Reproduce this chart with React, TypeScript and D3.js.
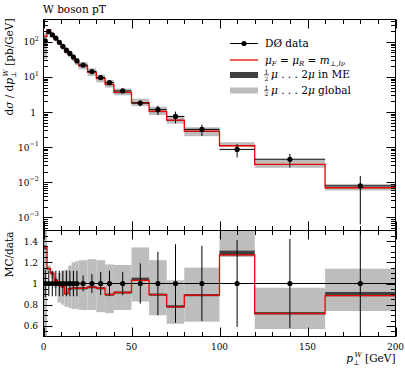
import React from "react";
import * as d3 from "d3";

// bin edges in pT [GeV]
const edges = [0, 2, 4, 6, 8, 10, 12, 14, 16, 18, 20, 25, 30, 35, 40, 50, 60, 70, 80, 100, 120, 160, 200];

// D0 data, dsigma/dpT [pb/GeV]
const dataVals = [107, 198, 158, 128, 98, 75, 58, 47, 37, 28.7, 22, 14.3, 9.6, 6.9, 4.0, 1.8, 1.17, 0.75, 0.32, 0.086, 0.045, 0.0078];
// relative data uncertainty
const dataRelErr = [0.13, 0.12, 0.12, 0.12, 0.12, 0.12, 0.12, 0.12, 0.12, 0.12, 0.075, 0.09, 0.11, 0.12, 0.11, 0.19, 0.3, 0.37, 0.355, 0.41, 0.42, 0.92];

// MC / data
const mcRatio = [1.34, 1.14, 1.095, 1.03, 0.985, 0.97, 0.905, 0.95, 0.955, 0.955, 0.955, 0.965, 0.955, 0.895, 0.915, 1.03, 0.895, 0.78, 0.89, 1.27, 0.715, 0.885];
// scale variation in ME (ratio to data)
const meLo = [1.32, 1.13, 1.085, 1.02, 0.975, 0.96, 0.895, 0.94, 0.945, 0.945, 0.945, 0.955, 0.945, 0.885, 0.905, 1.025, 0.885, 0.772, 0.88, 1.265, 0.708, 0.88];
const meHi = [1.36, 1.15, 1.105, 1.04, 0.995, 0.98, 0.915, 0.96, 0.965, 0.965, 0.965, 0.975, 0.965, 0.905, 0.925, 1.055, 0.905, 0.795, 0.9, 1.31, 0.73, 0.92];
// global scale variation (ratio to data)
const glLo = [0.3, 1.1, 1.05, 0.96, 0.82, 0.8, 0.78, 0.77, 0.76, 0.76, 0.75, 0.75, 0.73, 0.72, 0.75, 0.83, 0.7, 0.62, 0.64, 1.25, 0.57, 0.74];
const glHi = [1.7, 1.17, 1.12, 1.06, 1.1, 1.12, 1.13, 1.17, 1.2, 1.21, 1.22, 1.23, 1.22, 1.18, 1.175, 1.34, 1.22, 1.03, 1.15, 1.6, 0.96, 1.14];

const xMajor = [0, 50, 100, 150, 200];
const ratioTicks = [0.6, 0.8, 1, 1.2, 1.4];
const decades = [-3, -2, -1, 0, 1, 2];

const W = 405;
const H = 369;
const L = 43.5;
const R = 395.5;
const T = 19.5;
const M = 230.5;
const B = 336.5;

const FONT = "'DejaVu Serif', 'Liberation Serif', serif";
const LIGHT = "#bdbdbd";
const DARK = "#404040";
const RED = "#ee0000";

const x = d3.scaleLinear().domain([0, 200]).range([L, R]);
const yTop = d3.scaleLog().domain([Math.pow(10, -3.38), Math.pow(10, 2.64)]).range([M, T]);
const yRat = d3.scaleLinear().domain([0.5, 1.5]).range([B, M]);

const bins = dataVals.map((v, i) => ({
  lo: edges[i],
  hi: edges[i + 1],
  mid: (edges[i] + edges[i + 1]) / 2,
  v,
  err: v * dataRelErr[i],
  rel: dataRelErr[i],
  r: mcRatio[i],
  meLo: meLo[i],
  meHi: meHi[i],
  glLo: glLo[i],
  glHi: glHi[i],
}));

const stepPath = (y: (b: any) => number) => {
  const pts: [number, number][] = bins.map((b) => [x(b.lo), y(b)]);
  pts.push([x(200), y(bins[bins.length - 1])]);
  return d3.line().curve(d3.curveStepAfter)(pts) || "";
};

const XTicks = ({ y0, dir }: { y0: number; dir: number }) => (
  <g stroke="#000" strokeWidth={1}>
    {d3.range(0, 201, 10).map((t) => {
      const major = t % 50 === 0;
      const xx = Math.round(x(t)) + 0.5;
      return <line key={t} x1={xx} x2={xx} y1={y0} y2={y0 + dir * (major ? 9 : 4.5)} />;
    })}
  </g>
);

const Sup = ({ base, exp }: { base: string; exp: string }) => (
  <>
    {base}
    <tspan dy={-4.5} fontSize={6.5}>{exp}</tspan>
  </>
);

const Half = ({ x0, y0 }: { x0: number; y0: number }) => (
  <g>
    <text x={x0 + 2.5} y={y0 - 4} fontSize={6} textAnchor="middle" fontFamily={FONT}>1</text>
    <line x1={x0} x2={x0 + 5} y1={y0 - 3.2} y2={y0 - 3.2} stroke="#000" strokeWidth={0.6} />
    <text x={x0 + 2.5} y={y0 + 2.5} fontSize={6} textAnchor="middle" fontFamily={FONT}>2</text>
  </g>
);

export default function App() {
  const redTop = stepPath((b) => yTop(b.v * b.r));
  const redRat = stepPath((b) => yRat(b.r));

  const topMinor: number[] = [];
  decades.concat([-4]).forEach((d) => {
    for (let k = 2; k <= 9; k++) {
      const v = k * Math.pow(10, d);
      const py = yTop(v);
      if (py > T && py < M) topMinor.push(py);
    }
  });

  return (
    <svg width={W} height={H} style={{ position: "absolute", left: 0, top: 0, background: "#fff" }} fontFamily={FONT}>
      <defs>
        <clipPath id="clipTop">
          <rect x={L} y={T} width={R - L} height={M - T} />
        </clipPath>
        <clipPath id="clipRat">
          <rect x={L} y={M} width={R - L} height={B - M} />
        </clipPath>
      </defs>

      {/* title */}
      <text x={43} y={13} fontSize={10.5}>W boson pT</text>

      {/* ---------- top panel ---------- */}
      <g clipPath="url(#clipTop)">
        {bins.map((b, i) => (
          <rect key={"gl" + i} x={x(b.lo)} width={x(b.hi) - x(b.lo)}
            y={yTop(b.v * b.glHi)} height={yTop(b.v * b.glLo) - yTop(b.v * b.glHi)} fill={LIGHT} />
        ))}
        {bins.map((b, i) => (
          <rect key={"me" + i} x={x(b.lo)} width={x(b.hi) - x(b.lo)}
            y={yTop(b.v * b.meHi)} height={Math.max(1, yTop(b.v * b.meLo) - yTop(b.v * b.meHi))} fill={DARK} />
        ))}
        <path d={redTop} fill="none" stroke={RED} strokeWidth={1.3} />
        {bins.map((b, i) => (
          <g key={"d" + i} stroke="#000" strokeWidth={1}>
            <line x1={x(b.lo)} x2={x(b.hi)} y1={yTop(b.v)} y2={yTop(b.v)} />
            <line x1={x(b.mid)} x2={x(b.mid)} y1={yTop(b.v + b.err)} y2={yTop(Math.max(b.v - b.err, 1e-5))} />
            <circle cx={x(b.mid)} cy={yTop(b.v)} r={2.6} fill="#000" stroke="none" />
          </g>
        ))}
      </g>
      <rect x={L} y={T} width={R - L} height={M - T} fill="none" stroke="#000" strokeWidth={1} />
      <XTicks y0={T} dir={1} />
      <XTicks y0={M} dir={-1} />
      <g stroke="#000" strokeWidth={1}>
        {decades.map((d) => {
          const py = Math.round(yTop(Math.pow(10, d))) + 0.5;
          return (
            <g key={d}>
              <line x1={L} x2={L + 9} y1={py} y2={py} />
              <line x1={R} x2={R - 9} y1={py} y2={py} />
            </g>
          );
        })}
        {topMinor.map((py, i) => (
          <g key={i}>
            <line x1={L} x2={L + 4.5} y1={Math.round(py) + 0.5} y2={Math.round(py) + 0.5} />
            <line x1={R} x2={R - 4.5} y1={Math.round(py) + 0.5} y2={Math.round(py) + 0.5} />
          </g>
        ))}
      </g>
      <g fontSize={9} textAnchor="end">
        {decades.map((d) => (
          <text key={d} x={d === 0 ? 36 : 39} y={yTop(Math.pow(10, d)) + 3.5}>
            {d === 0 ? "1" : <Sup base="10" exp={d < 0 ? "−" + -d : String(d)} />}
          </text>
        ))}
      </g>
      <text transform={`translate(12.5,${T - 1}) rotate(-90)`} textAnchor="end" fontSize={10.5}>
        d<tspan fontStyle="italic">σ</tspan> / d<tspan fontStyle="italic">p</tspan>
        <tspan dy={3} fontSize={7}>⊥</tspan>
        <tspan dx={-5} dy={-8} fontSize={7} fontStyle="italic">W</tspan>
        <tspan dy={5}> [pb/GeV]</tspan>
      </text>

      {/* legend */}
      <g fontSize={10.5}>
        <line x1={230} x2={258} y1={43.5} y2={43.5} stroke="#000" strokeWidth={1} />
        <circle cx={244} cy={43.5} r={2.6} fill="#000" />
        <text x={265} y={47}>DØ data</text>

        <line x1={230} x2={258} y1={60} y2={60} stroke={RED} strokeWidth={1.3} />
        <text x={265} y={63.5} fontStyle="italic">
          μ<tspan dy={2.5} fontSize={7}>F</tspan>
          <tspan dy={-2.5} fontStyle="normal"> = </tspan>μ<tspan dy={2.5} fontSize={7}>R</tspan>
          <tspan dy={-2.5} fontStyle="normal"> = </tspan>m<tspan dy={2.5} fontSize={7}>⊥,lν</tspan>
        </text>

        <rect x={230} y={72} width={28} height={6} fill={DARK} />
        <Half x0={264} y0={78} />
        <text x={271} y={78}>
          <tspan fontStyle="italic">μ</tspan> . . . 2<tspan fontStyle="italic">μ</tspan> in ME
        </text>

        <rect x={230} y={87.5} width={28} height={6} fill={LIGHT} />
        <Half x0={264} y0={93.5} />
        <text x={271} y={93.5}>
          <tspan fontStyle="italic">μ</tspan> . . . 2<tspan fontStyle="italic">μ</tspan> global
        </text>
      </g>

      {/* ---------- ratio panel ---------- */}
      <g clipPath="url(#clipRat)">
        {bins.map((b, i) => (
          <rect key={"rgl" + i} x={x(b.lo)} width={x(b.hi) - x(b.lo)}
            y={yRat(b.glHi)} height={yRat(b.glLo) - yRat(b.glHi)} fill={LIGHT} />
        ))}
        {bins.map((b, i) => (
          <rect key={"rme" + i} x={x(b.lo)} width={x(b.hi) - x(b.lo)}
            y={yRat(b.meHi)} height={Math.max(1, yRat(b.meLo) - yRat(b.meHi))} fill={DARK} />
        ))}
        <path d={redRat} fill="none" stroke={RED} strokeWidth={1.3} />
        <line x1={x(0)} x2={x(200)} y1={yRat(1)} y2={yRat(1)} stroke="#000" strokeWidth={1} />
        {bins.map((b, i) => (
          <g key={"rd" + i}>
            <line x1={x(b.mid)} x2={x(b.mid)} y1={yRat(1 + b.rel)} y2={yRat(1 - b.rel)} stroke="#000" strokeWidth={1} />
            <circle cx={x(b.mid)} cy={yRat(1)} r={2.6} fill="#000" />
          </g>
        ))}
      </g>
      <rect x={L} y={M} width={R - L} height={B - M} fill="none" stroke="#000" strokeWidth={1} />
      <XTicks y0={M} dir={1} />
      <XTicks y0={B} dir={-1} />
      <g stroke="#000" strokeWidth={1}>
        {d3.range(0.55, 1.5, 0.05).map((t) => {
          const major = ratioTicks.some((m) => Math.abs(m - t) < 1e-6);
          const py = Math.round(yRat(t)) + 0.5;
          const len = major ? 9 : 4.5;
          return (
            <g key={t.toFixed(2)}>
              <line x1={L} x2={L + len} y1={py} y2={py} />
              <line x1={R} x2={R - len} y1={py} y2={py} />
            </g>
          );
        })}
      </g>
      <g fontSize={9} textAnchor="end">
        {ratioTicks.map((t) => (
          <text key={t} x={38} y={yRat(t) + 3.5}>{String(t)}</text>
        ))}
      </g>
      <text transform={`translate(12.5,${M + 1}) rotate(-90)`} textAnchor="end" fontSize={10.5}>MC/data</text>

      <g fontSize={9} textAnchor="middle">
        {xMajor.map((t) => (
          <text key={t} x={x(t)} y={350}>{t}</text>
        ))}
      </g>
      <text x={R} y={362} textAnchor="end" fontSize={10.5}>
        <tspan fontStyle="italic">p</tspan>
        <tspan dy={3} fontSize={7}>⊥</tspan>
        <tspan dx={-5} dy={-8} fontSize={7} fontStyle="italic">W</tspan>
        <tspan dy={5}> [GeV]</tspan>
      </text>
    </svg>
  );
}
